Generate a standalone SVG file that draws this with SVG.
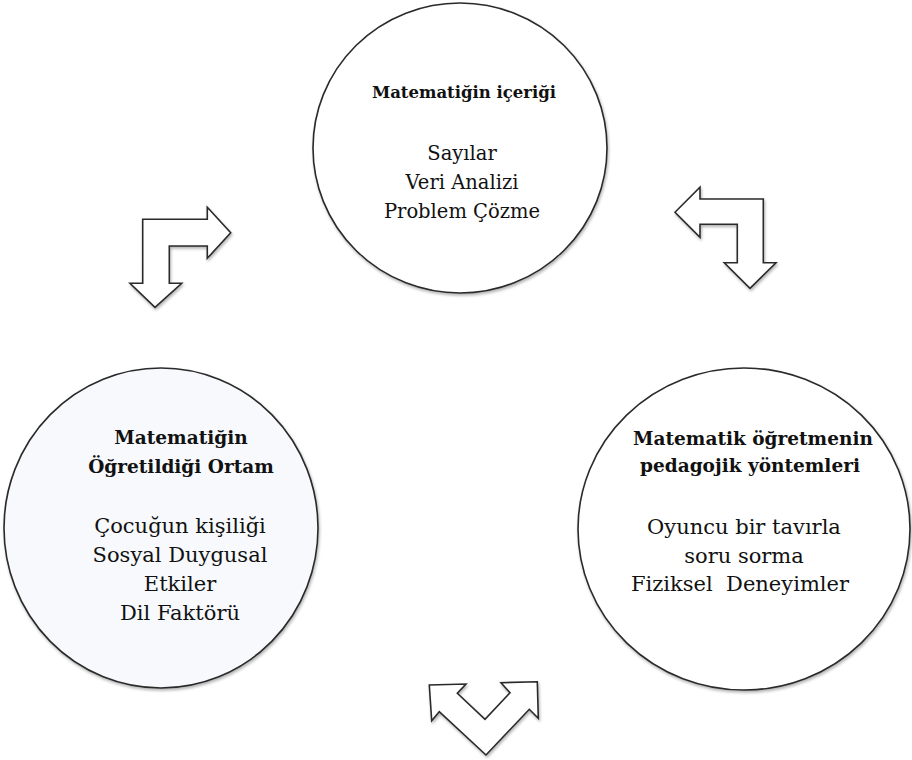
<svg xmlns="http://www.w3.org/2000/svg" width="912" height="760" viewBox="0 0 912 760">
<defs>
<filter id="sh" x="-10%" y="-10%" width="120%" height="120%">
<feGaussianBlur in="SourceAlpha" stdDeviation="1.5"/>
<feOffset dx="1" dy="2" result="b"/>
<feComponentTransfer><feFuncA type="linear" slope="0.3"/></feComponentTransfer>
<feMerge><feMergeNode/><feMergeNode in="SourceGraphic"/></feMerge>
</filter>
<style>
.c{fill:#fff;stroke:#2a2a2a;stroke-width:1.6}
.cl{fill:#f7f9fc;stroke:#2a2a2a;stroke-width:1.6}
.a{fill:#fff;stroke:#2a2a2a;stroke-width:1.6;stroke-linejoin:miter}
.h{font-family:"DejaVu Serif","Liberation Serif",serif;font-weight:bold;font-size:18.5px;fill:#111;text-anchor:middle}
.t{font-family:"DejaVu Serif","Liberation Serif",serif;font-size:21px;fill:#111;text-anchor:middle}
.s{font-size:16.5px}
.u{font-size:19.5px}
</style>
</defs>
<rect width="912" height="760" fill="#fff"/>
<g id="node-top">
<ellipse class="c" cx="460" cy="148" rx="147" ry="145" filter="url(#sh)"/>
<text class="h s" x="464" y="98">Matematiğin içeriği</text>
<text class="t u" x="462" y="160">Sayılar</text>
<text class="t u" x="462" y="189">Veri Analizi</text>
<text class="t u" x="462" y="218">Problem Çözme</text>
</g>
<g id="node-left">
<ellipse class="cl" cx="161" cy="528" rx="157" ry="160" filter="url(#sh)"/>
<text class="h" x="181" y="444">Matematiğin</text>
<text class="h" x="181" y="473">Öğretildiği Ortam</text>
<text class="t" x="180" y="533">Çocuğun kişiliği</text>
<text class="t" x="180" y="562">Sosyal Duygusal</text>
<text class="t" x="180" y="591">Etkiler</text>
<text class="t" x="180" y="620">Dil Faktörü</text>
</g>
<g id="node-right">
<ellipse class="c" cx="744" cy="529" rx="166" ry="161" filter="url(#sh)"/>
<text class="h" x="753" y="445">Matematik öğretmenin</text>
<text class="h" x="750" y="472">pedagojik yöntemleri</text>
<text class="t" x="744" y="534">Oyuncu bir tavırla</text>
<text class="t" x="744" y="563">soru sorma</text>
<text class="t" x="740" y="591" xml:space="preserve">Fiziksel  Deneyimler</text>
</g>
<g id="connectors">
<polygon class="a" filter="url(#sh)" points="142.7,219.3 207.3,219.3 207.3,207.3 230.7,232.7 207.3,258.3 207.3,246 169.3,246 169.3,283.3 181.7,283.3 155,307.3 130,283.3 142.7,283.3"/>
<polygon class="a" filter="url(#sh)" points="675,212.3 700,187.3 700,199 763.3,199 763.3,262.7 776,262.7 750,288.3 724.3,262.7 737.3,262.7 737.3,224.3 700,224.3 700,237.3"/>
<polygon class="a" filter="url(#sh)" points="486,755 439.3,711.7 431.7,720.7 429.3,685 466,684 457.3,693.3 485,719.3 510,692.7 501,682.7 537.3,681.7 538.3,718.3 529.3,709.3"/>
</g>
</svg>
